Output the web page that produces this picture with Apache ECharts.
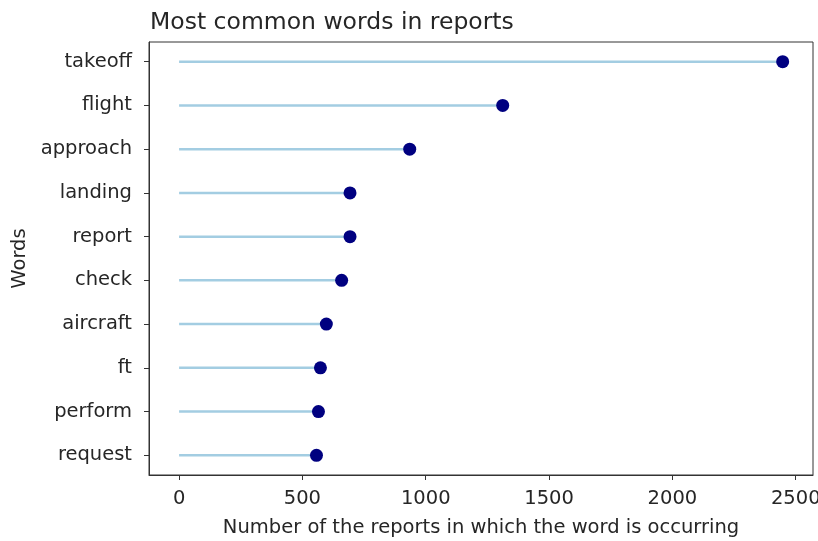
<!DOCTYPE html>
<html>
<head>
<meta charset="utf-8">
<script src="https://cdn.jsdelivr.net/npm/echarts@6/dist/echarts.min.js"></script>
<style>
  html, body { margin: 0; padding: 0; background: #fff; }
  #chart { width: 818px; height: 541px; }
</style>
</head>
<body>
<div id="chart"></div>
<script>
// Word frequencies, top word first
const words = ['takeoff', 'flight', 'approach', 'landing', 'report', 'check', 'aircraft', 'ft', 'perform', 'request'];
const counts = [2447, 1312, 935, 693, 693, 659, 597, 573, 565, 557];
const xTicks = [0, 500, 1000, 1500, 2000, 2500];

const indices = words.map((w, i) => i);
const points = counts.map((c, i) => [c, i]);

const font = 'DejaVu Sans';
const textColor = '#262626';
const axisColor = '#333';

const chart = echarts.init(document.getElementById('chart'), null, { renderer: 'canvas' });

chart.setOption({
  animation: false,
  backgroundColor: '#fff',
  title: {
    text: 'Most common words in reports',
    left: 145,
    top: 6,
    textStyle: { fontFamily: font, fontSize: 23.5, fontWeight: 'normal', color: textColor }
  },
  grid: {
    left: 149, right: 5, top: 42, bottom: 66,
    outerBoundsMode: 'none',
    containLabel: false,
    show: true, borderColor: axisColor, borderWidth: 1, backgroundColor: 'transparent'
  },
  xAxis: {
    type: 'value',
    min: -122, max: 2570,
    name: 'Number of the reports in which the word is occurring',
    nameLocation: 'middle',
    nameGap: 43,
    nameTextStyle: { fontFamily: font, fontSize: 19.5, color: textColor },
    axisLine: { show: true, onZero: false, lineStyle: { color: axisColor } },
    axisTick: { show: true, length: 5, customValues: xTicks, lineStyle: { color: axisColor } },
    axisLabel: {
      customValues: xTicks, margin: 14,
      fontFamily: font, fontSize: 19.5, color: textColor,
      formatter: v => String(v)
    },
    splitLine: { show: false }
  },
  yAxis: {
    type: 'value',
    min: -0.45, max: 9.45,
    inverse: true,
    name: 'Words',
    nameLocation: 'middle',
    nameGap: 117,
    nameRotate: 90,
    nameTextStyle: { fontFamily: font, fontSize: 19.5, color: textColor },
    axisLine: { show: true, onZero: false, lineStyle: { color: axisColor } },
    axisTick: { show: true, length: 5, customValues: indices, lineStyle: { color: axisColor } },
    axisLabel: {
      customValues: indices,
      margin: 17,
      padding: [3, 0, 0, 0],
      fontFamily: font, fontSize: 19.5, color: textColor,
      formatter: v => words[Math.round(v)]
    },
    splitLine: { show: false }
  },
  series: [
    {
      // stems from zero to each count
      type: 'custom',
      data: points,
      encode: { x: 0, y: 1 },
      renderItem: (params, api) => {
        const start = api.coord([0, api.value(1)]);
        const end = api.coord([api.value(0), api.value(1)]);
        return {
          type: 'line',
          shape: { x1: start[0], y1: start[1], x2: end[0], y2: end[1] },
          style: { stroke: '#a3cde2', lineWidth: 2.5 }
        };
      },
      z: 2
    },
    {
      type: 'scatter',
      data: points,
      symbol: 'circle',
      symbolSize: 13,
      itemStyle: { color: '#000080', opacity: 1 },
      z: 3
    }
  ]
});
</script>
</body>
</html>
